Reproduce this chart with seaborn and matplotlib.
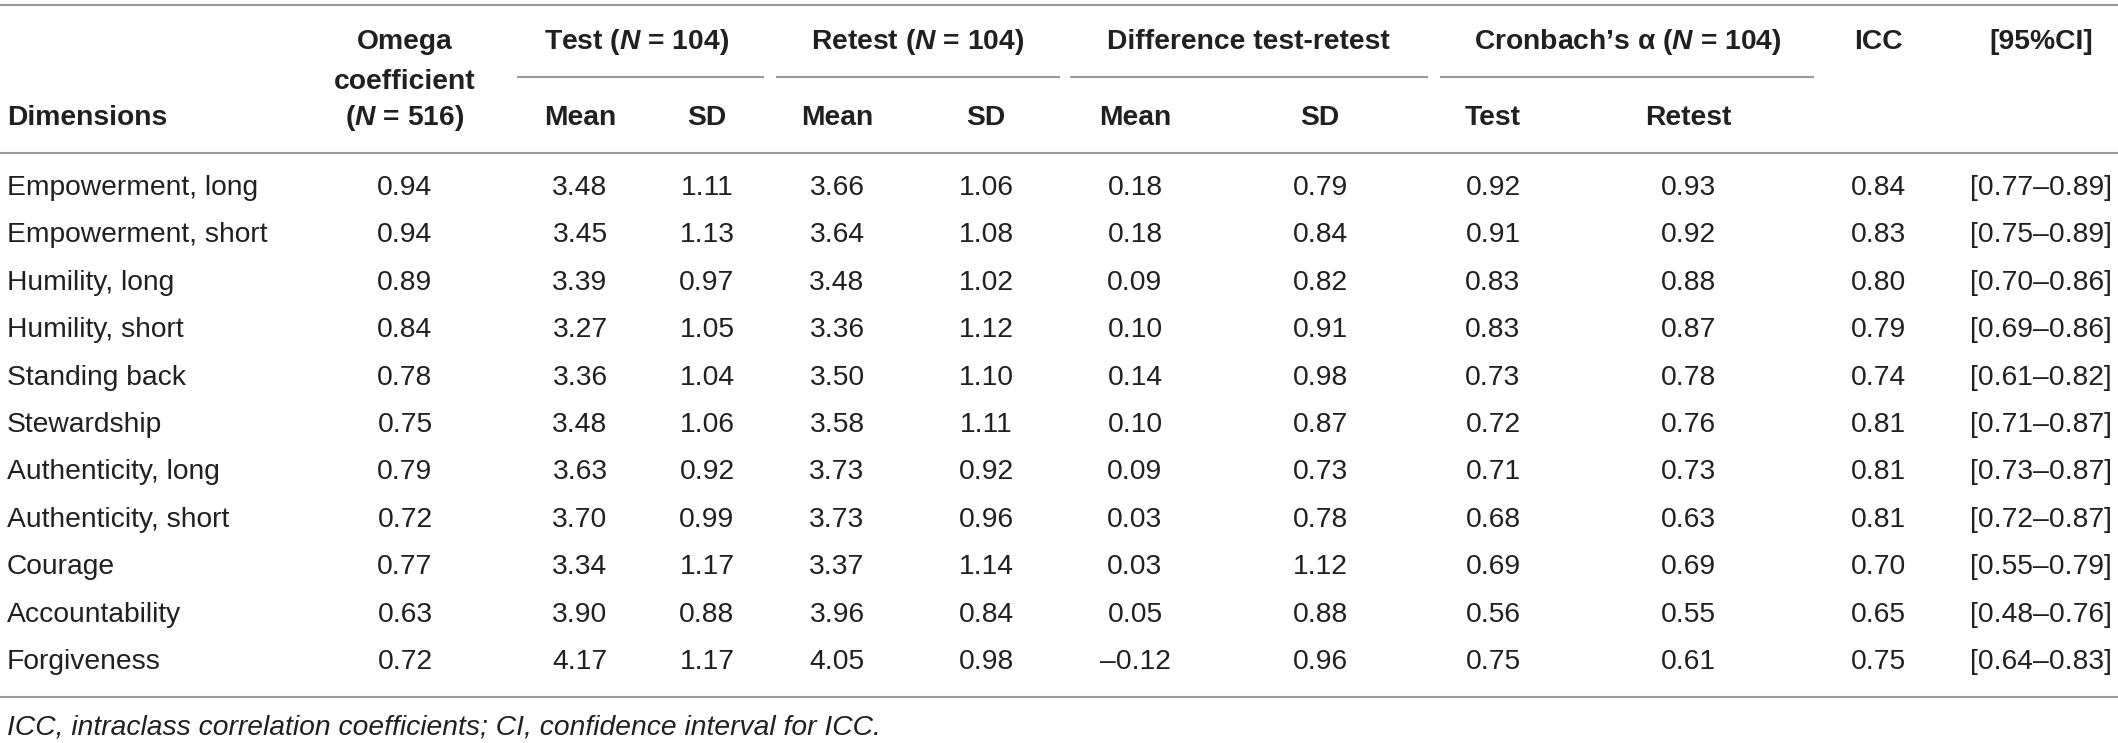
import numpy as np
import pandas as pd
import seaborn as sns
import matplotlib.pyplot as plt

# table values
dimensions = ["Empowerment, long", "Empowerment, short", "Humility, long", "Humility, short",
              "Standing back", "Stewardship", "Authenticity, long", "Authenticity, short",
              "Courage", "Accountability", "Forgiveness"]
omega = [0.94, 0.94, 0.89, 0.84, 0.78, 0.75, 0.79, 0.72, 0.77, 0.63, 0.72]
test_mean = [3.48, 3.45, 3.39, 3.27, 3.36, 3.48, 3.63, 3.70, 3.34, 3.90, 4.17]
test_sd = [1.11, 1.13, 0.97, 1.05, 1.04, 1.06, 0.92, 0.99, 1.17, 0.88, 1.17]
retest_mean = [3.66, 3.64, 3.48, 3.36, 3.50, 3.58, 3.73, 3.73, 3.37, 3.96, 4.05]
retest_sd = [1.06, 1.08, 1.02, 1.12, 1.10, 1.11, 0.92, 0.96, 1.14, 0.84, 0.98]
diff_mean = [0.18, 0.18, 0.09, 0.10, 0.14, 0.10, 0.09, 0.03, 0.03, 0.05, -0.12]
diff_sd = [0.79, 0.84, 0.82, 0.91, 0.98, 0.87, 0.73, 0.78, 1.12, 0.88, 0.96]
alpha_test = [0.92, 0.91, 0.83, 0.83, 0.73, 0.72, 0.71, 0.68, 0.69, 0.56, 0.75]
alpha_retest = [0.93, 0.92, 0.88, 0.87, 0.78, 0.76, 0.73, 0.63, 0.69, 0.55, 0.61]
icc = [0.84, 0.83, 0.80, 0.79, 0.74, 0.81, 0.81, 0.81, 0.70, 0.65, 0.75]
ci_low = [0.77, 0.75, 0.70, 0.69, 0.61, 0.71, 0.73, 0.72, 0.55, 0.48, 0.64]
ci_high = [0.89, 0.89, 0.86, 0.86, 0.82, 0.87, 0.87, 0.87, 0.79, 0.76, 0.83]

footnote = "ICC, intraclass correlation coefficients; CI, confidence interval for ICC."

sns.set_theme(style="white")
plt.rcParams['font.family'] = ['Liberation Sans', 'DejaVu Sans']
plt.rcParams['mathtext.fontset'] = 'custom'
plt.rcParams['mathtext.rm'] = 'Liberation Sans:bold'
plt.rcParams['mathtext.it'] = 'Liberation Sans:italic:bold'
plt.rcParams['mathtext.bf'] = 'Liberation Sans:bold'

def fmt(v):
    return f"{v:.2f}".replace("-", "\u2013")

df = pd.DataFrame({
    "dim": dimensions,
    "omega": [fmt(v) for v in omega],
    "tm": [fmt(v) for v in test_mean],
    "tsd": [fmt(v) for v in test_sd],
    "rm": [fmt(v) for v in retest_mean],
    "rsd": [fmt(v) for v in retest_sd],
    "dm": [fmt(v) for v in diff_mean],
    "dsd": [fmt(v) for v in diff_sd],
    "at": [fmt(v) for v in alpha_test],
    "ar": [fmt(v) for v in alpha_retest],
    "icc": [fmt(v) for v in icc],
    "ci": [f"[{fmt(a)}\u2013{fmt(b)}]" for a, b in zip(ci_low, ci_high)],
})

W, H = 2118, 743
fig = plt.figure(figsize=(W / 100, H / 100), dpi=100)
ax = fig.add_axes([0, 0, 1, 1])
ax.set_xlim(0, W)
ax.set_ylim(H, 0)
ax.axis("off")

txt = "#231f20"
line_c = "#9a9a9a"
fs = 20.3

col_x = {"omega": 405, "tm": 580, "tsd": 707, "rm": 837, "rsd": 986,
         "dm": 1135, "dsd": 1320, "at": 1493, "ar": 1688, "icc": 1878, "ci": 2041}

# rules
for y in (5, 153, 697):
    ax.plot([0, W], [y, y], color=line_c, lw=1.5, solid_capstyle="butt")
for x0, x1 in [(517, 764), (776, 1060), (1070, 1428), (1440, 1814)]:
    ax.plot([x0, x1], [77, 77], color=line_c, lw=1.5, solid_capstyle="butt")

# header
hd = dict(fontsize=fs, fontweight="bold", color=txt, va="center", ha="center")
ax.text(7, 118, "Dimensions", **{**hd, "ha": "left"})
ax.text(405, 42, "Omega", **hd)
ax.text(405, 82, "coefficient", **hd)
ax.text(405, 118, r"($\mathit{N}$ = 516)", **hd)
ax.text(637, 42, r"Test ($\mathit{N}$ = 104)", **hd)
ax.text(918, 42, r"Retest ($\mathit{N}$ = 104)", **hd)
ax.text(1248, 42, "Difference test-retest", **hd)
ax.text(1628, 42, "Cronbach\u2019s \u03b1 ($\\mathit{N}$ = 104)", **hd)
ax.text(1878, 42, "ICC", **hd)
ax.text(2041, 42, "[95%CI]", **hd)
for key, lab in [("tm", "Mean"), ("tsd", "SD"), ("rm", "Mean"), ("rsd", "SD"),
                 ("dm", "Mean"), ("dsd", "SD"), ("at", "Test"), ("ar", "Retest")]:
    ax.text(col_x[key], 118, lab, **hd)

# body
row_y = 188 + 47.4 * np.arange(len(df))
for y, (_, row) in zip(row_y, df.iterrows()):
    ax.text(7, y, row["dim"], fontsize=fs, color=txt, va="center", ha="left")
    for key, x in col_x.items():
        ax.text(x, y, row[key], fontsize=fs, color=txt, va="center", ha="center")

ax.text(7, 728, footnote, fontsize=fs, color=txt, style="italic", va="center", ha="left")

fig.savefig("out.png", dpi=100)
